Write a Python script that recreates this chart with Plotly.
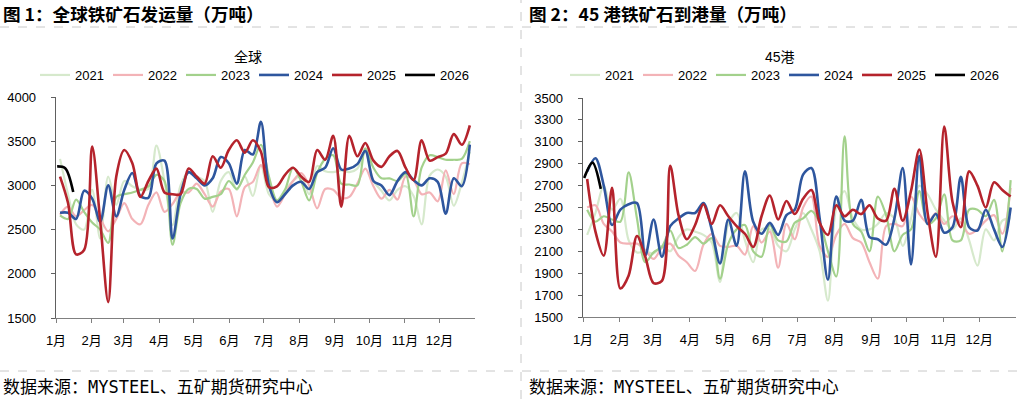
import plotly.graph_objects as go

W, H = 1026, 399

years = ["2021", "2022", "2023", "2024", "2025", "2026"]
colors = {"2021": "#d6e9cc", "2022": "#f3b3b7", "2023": "#a3d18c",
          "2024": "#2e569e", "2025": "#b5232c", "2026": "#000000"}
widths = {"2021": 2.2, "2022": 2.2, "2023": 2.2, "2024": 2.6, "2025": 2.6, "2026": 2.6}

weeks = list(range(1, 53))
weeks_2026 = [1, 2, 3]
month_labels = ["1月", "2月", "3月", "4月", "5月", "6月", "7月", "8月", "9月", "10月", "11月", "12月"]
month_start_day = [0, 31, 59, 90, 120, 151, 181, 212, 243, 273, 304, 334]

# ---- 全球 发运量 (万吨) ----
global_2021 = [3300, 2900, 2560, 2500, 2950, 2400, 3100, 2780, 3050, 2990, 2950, 2960, 3450,
               3050, 2550, 3000, 3150, 3100, 3050, 2700, 3050, 3150, 2950, 3100, 2880, 3230,
               2900, 2830, 2950, 3050, 3110, 2900, 3220, 3160, 3150, 3170, 3150, 3190, 3380,
               3050, 2940, 2830, 2950, 2990, 2880, 2560, 3110, 3180, 3100, 2770, 3030, 3380]
global_2022 = [2670, 2760, 2650, 2720, 2780, 2630, 2480, 2620, 2800, 2620, 2560, 2780, 2920,
               2700, 2790, 2920, 2920, 3020, 2900, 2760, 2930, 2960, 2650, 2980, 3040, 3230,
               3000, 2760, 2900, 3050, 3140, 3000, 2740, 2960, 2950, 2860, 2870, 3020, 3190,
               2990, 2850, 2950, 2840, 3100, 3060, 2900, 2920, 2820, 3170, 2900, 3250, 3240]
global_2023 = [2660, 2620, 2840, 2700, 2580, 2500, 2350, 2870, 2900, 2920, 2950, 2990, 3120,
               3050, 2330, 2800, 2960, 2960, 2850, 2870, 2900, 3050, 2960, 3120, 3260, 3460,
               3100, 2830, 2950, 3200, 3050, 2830, 3140, 3300, 3340, 3020, 3010, 3000, 3420,
               3200, 3080, 3080, 3050, 3130, 2650, 3200, 3340, 3320, 3290, 3290, 3300, 3500]
global_2024 = [2690, 2690, 2620, 2940, 2850, 2590, 3000, 2650, 2950, 3140, 2880, 2860, 3250,
               3280, 2400, 2900, 3150, 3080, 3000, 3080, 3320, 3250, 3020, 3400, 3350, 3720,
               3000, 2810, 2900, 3000, 3040, 2960, 3150, 3200, 3420, 3180, 3190, 3240, 3390,
               3050, 3000, 2890, 3050, 3150, 3060, 3000, 3080, 3040, 2680, 3080, 2990, 3460]
global_2025 = [3100, 2800, 2220, 2270, 3440, 2600, 1680, 3100, 3400, 3250, 2870, 3050, 3190,
               2920, 2900, 2900, 3190, 3100, 3020, 3330, 3200, 3400, 3510, 3370, 3510, 3380,
               2980, 2990, 3120, 3200, 3100, 3040, 3400, 3290, 3560, 2760, 3560, 3330, 3480,
               3280, 3210, 3330, 3390, 3200, 3060, 3510, 3280, 3320, 3360, 3580, 3460, 3680]
global_2026 = [3215, 3195, 2925]

# ---- 45港 到港量 (万吨) ----
port_2021 = [2250, 2450, 2700, 2480, 2580, 2200, 2090, 2100, 2080, 2150, 2100, 2230, 2300,
             2280, 2250, 2180, 1820, 2350, 2450, 2200, 2000, 2300, 2300, 2150, 2100, 2300,
             2450, 2300, 2100, 1650, 2500, 2650, 2400, 2300, 2300, 2350, 2450, 2400, 2150,
             2400, 2700, 2620, 2480, 2380, 2300, 2400, 2200, 1970, 2300, 2200, 2380, 2400]
port_2022 = [2500, 2520, 2350, 2280, 2180, 2170, 2170, 2110, 2030, 2130, 2170, 2060, 2000,
             1920, 2160, 2260, 2150, 2140, 2150, 2070, 2330, 2180, 2280, 1950, 2350, 2210,
             2500, 2600, 2150, 2050, 2250, 2350, 2220, 2180, 2000, 1850, 2330, 2350, 2330,
             2600, 2440, 2360, 2450, 2350, 2420, 2360, 2260, 2300, 2380, 2430, 2260, 2680]
port_2023 = [2480, 2370, 2420, 2390, 2370, 2820, 2400, 2000, 2090, 2140, 2290, 2130, 2160,
             2230, 2170, 2220, 1850, 2170, 2300, 2340, 2100, 2050, 2340, 2200, 2190, 2360,
             2400, 2470, 2360, 2100, 1870, 3150, 2350, 2280, 2100, 2600, 2430, 2100, 2250,
             2300, 2650, 2350, 2400, 2620, 2200, 2200, 2480, 2480, 2420, 2570, 2100, 2750]
port_2024 = [2830, 2950, 2700, 2340, 2480, 2530, 2540, 2060, 2390, 2050, 2330, 2400, 2450,
             2450, 2540, 2300, 1990, 2390, 2150, 2830, 2370, 2260, 2360, 2250, 2430, 2480,
             2800, 2860, 2400, 1840, 2600, 2380, 2380, 2570, 2230, 2210, 2160, 2400, 2860,
             1980, 2970, 2350, 2440, 2270, 2320, 2780, 2320, 2290, 2480, 2300, 2140, 2500]
port_2025 = [2760, 2280, 2060, 2680, 1760, 1880, 2240, 2050, 1810, 1830, 2880, 2430, 2210,
             2340, 2530, 2350, 2520, 2420, 2330, 2260, 2140, 2420, 2610, 2390, 2560, 2440,
             2580, 2660, 2360, 2250, 2520, 2420, 2480, 2440, 2520, 2400, 2380, 2670, 2380,
             2650, 3030, 2450, 2050, 3240, 2550, 2320, 2830, 2700, 2500, 2730, 2660, 2600]
port_2026 = [2770, 2910, 2670]

left_data = {"2021": global_2021, "2022": global_2022, "2023": global_2023,
             "2024": global_2024, "2025": global_2025, "2026": global_2026}
right_data = {"2021": port_2021, "2022": port_2022, "2023": port_2023,
              "2024": port_2024, "2025": port_2025, "2026": port_2026}


def week_to_day(ws, offset):
    return [(w - 1) * 7 + offset for w in ws]


def px(x):
    return x / W


def py(y):
    return (H - y) / H


fig = go.Figure()
for side, data, xa, ya, lg in [("L", left_data, "x", "y", "legend"),
                                ("R", right_data, "x2", "y2", "legend2")]:
    for yr in years:
        vals = data[yr]
        if yr == "2026":
            xs = week_to_day(weeks_2026, 1)
        else:
            xs = week_to_day(weeks[:len(vals)], 3.5)
        fig.add_trace(go.Scatter(
            x=xs, y=vals, mode="lines", name=yr, legend=lg,
            line=dict(color=colors[yr], width=widths[yr], shape="spline", smoothing=0.9),
            xaxis=xa, yaxis=ya, hoverinfo="skip"))

axis_font = dict(family="Liberation Sans, Arial, Noto Sans CJK SC", size=13, color="#000000")
xcommon = dict(range=[0, 365], tickmode="array", tickvals=month_start_day, ticktext=month_labels,
               showgrid=False, zeroline=False, showline=True, linecolor="#808080", linewidth=1.3,
               ticks="outside", ticklen=4, tickcolor="#808080", tickfont=axis_font,
               ticklabelstandoff=6, automargin=False)
ycommon = dict(showgrid=False, zeroline=False, showline=True, linecolor="#606060", linewidth=1.3,
               ticks="outside", ticklen=4, tickcolor="#606060", tickfont=axis_font,
               ticklabelstandoff=12, automargin=False, tick0=1500)

leg_font = dict(family="Liberation Sans, Arial", size=13, color="#000")
fig.update_layout(
    width=W, height=H, margin=dict(l=0, r=0, t=0, b=0, autoexpand=False),
    paper_bgcolor="white", plot_bgcolor="white",
    xaxis=dict(domain=[px(56), px(475)], anchor="y", **xcommon),
    yaxis=dict(domain=[py(318), py(97)], anchor="x", range=[1500, 4000], dtick=500, **ycommon),
    xaxis2=dict(domain=[px(583), px(1016)], anchor="y2", **xcommon),
    yaxis2=dict(domain=[py(317), py(98)], anchor="x2", range=[1500, 3500], dtick=200, **ycommon),
    legend=dict(orientation="h", x=px(35), y=py(75), xanchor="left", yanchor="middle",
                entrywidth=28, font=leg_font,
                bgcolor="rgba(0,0,0,0)", itemclick=False, itemdoubleclick=False),
    legend2=dict(orientation="h", x=px(565), y=py(75), xanchor="left", yanchor="middle",
                 entrywidth=28, font=leg_font,
                 bgcolor="rgba(0,0,0,0)", itemclick=False, itemdoubleclick=False),
    showlegend=True,
)

cjk = "Noto Sans CJK SC"
mono = "<span style='font-family:DejaVu Sans Mono'>MYSTEEL</span>"
annos = [
    dict(text="<b>图 1：全球铁矿石发运量（万吨）</b>", x=px(1), y=py(13), size=17.6),
    dict(text="<b>图 2：45 港铁矿石到港量（万吨）</b>", x=px(527), y=py(13), size=17.6),
    dict(text="数据来源：" + mono + "、五矿期货研究中心", x=px(1), y=py(385), size=17),
    dict(text="数据来源：" + mono + "、五矿期货研究中心", x=px(527), y=py(385), size=17),
]
for a in annos:
    fig.add_annotation(text=a["text"], x=a["x"], y=a["y"], xref="paper", yref="paper",
                       xanchor="left", yanchor="middle", showarrow=False,
                       font=dict(family=cjk, size=a["size"], color="#000000"))
for t, xc in [("全球", 248), ("45港", 780)]:
    fig.add_annotation(text=t, x=px(xc), y=py(57), xref="paper", yref="paper",
                       xanchor="center", yanchor="middle", showarrow=False,
                       font=dict(family="Liberation Sans, Arial, " + cjk, size=14, color="#000000"))

dash_col = "#c8c8c8"
fig.add_shape(type="line", xref="paper", yref="paper", x0=0, x1=1, y0=py(27), y1=py(27),
              line=dict(color=dash_col, width=1, dash="dash"))
fig.add_shape(type="line", xref="paper", yref="paper", x0=0, x1=1, y0=py(371), y1=py(371),
              line=dict(color=dash_col, width=1, dash="dash"))
fig.add_shape(type="line", xref="paper", yref="paper", x0=px(521), x1=px(521), y0=0, y1=1,
              line=dict(color=dash_col, width=1, dash="dash"))

fig.write_html("out.html", config={"displayModeBar": False, "staticPlot": True},
               post_script="document.body.style.margin='0px';document.body.style.overflow='hidden';")
